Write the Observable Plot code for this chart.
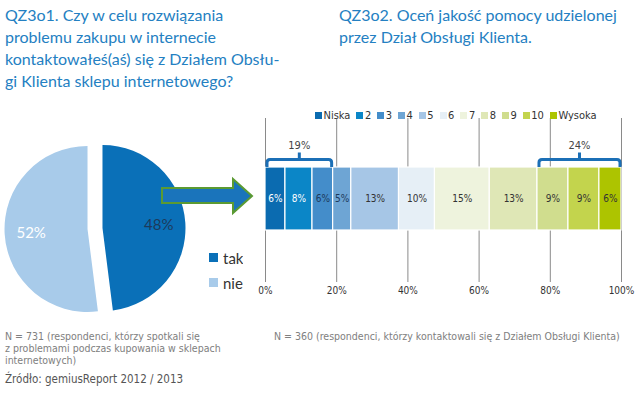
<!DOCTYPE html>
<html><head><meta charset="utf-8">
<script src="https://cdn.jsdelivr.net/npm/d3@7"></script>
<script src="https://cdn.jsdelivr.net/npm/@observablehq/plot@0.6"></script>
<style>
body{margin:0;background:#fff;}
#root{position:relative;width:640px;height:395px;overflow:hidden;background:#fff;}
.title{position:absolute;color:#2480c2;font-family:Lato,sans-serif;font-size:16px;line-height:22px;white-space:nowrap;}
.note{position:absolute;color:#808080;font-family:"Liberation Sans Narrow","DejaVu Sans Condensed",sans-serif;font-size:10.5px;line-height:12px;white-space:nowrap;}
#rl .rl-swatches-wrap{min-height:0 !important;}
#rl .rl-swatch{margin-right:6px !important;}
#rl .rl-swatch > svg{margin-right:1.5px !important;}
#rl .rl-swatches{margin:0 !important;}
#pl .pl-swatch{height:25px;padding:0 !important;}
#pl .pl-swatch > svg{margin-right:5px !important;}
#pl .pl-swatches{margin:0 !important;}
</style></head><body><div id="root"></div>
<script>
// ---- data ----
const pieLabels = ["tak", "nie"];
const pieValues = [48, 52];
const pieColors = ["#0a70b8", "#a8cbea"];
const pieTextColors = ["#1d3a5c", "#ffffff"];

const ratingLabels = ["Niska", "2", "3", "4", "5", "6", "7", "8", "9", "10", "Wysoka"];
const ratingValues = [5.6, 7.6, 5.8, 5.1, 13.4, 10.1, 15.4, 13.4, 8.7, 8.7, 6.2];
const ratingColors = ["#0b6bb0", "#0b86c7", "#448dca", "#6ea5d4", "#a6c6e6", "#e6eff6", "#eef3dd", "#dfe7b6", "#d0dd8e", "#c3d44d", "#adc400"];
const ratingTextColors = ["#ffffff", "#ffffff", "#1d3a5c", "#1d3a5c", "#333333", "#333333", "#333333", "#333333", "#333333", "#333333", "#333333"];
const xTicks = [0, 20, 40, 60, 80, 100];
const groups = [[0, 3], [8, 11]]; // ranges of categories summarised by brackets

const titleLeft = ["QZ3o1. Czy w celu rozwiązania", "problemu zakupu w internecie", "kontaktowałeś(aś) się z Działem Obsłu-", "gi Klienta sklepu internetowego?"];
const titleRight = ["QZ3o2. Oceń jakość pomocy udzielonej", "przez Dział Obsługi Klienta."];
const noteLeft = ["N = 731 (respondenci, którzy spotkali się", "z problemami podczas kupowania w sklepach", "internetowych)"];
const noteRight = "N = 360 (respondenci, którzy kontaktowali się z Działem Obsługi Klienta)";
const source = "Źródło: gemiusReport 2012 / 2013";

const root = document.getElementById("root");
function place(el, left, top) { el.style.position = "absolute"; el.style.left = left + "px"; el.style.top = top + "px"; root.appendChild(el); return el; }
function div(cls, html) { const d = document.createElement("div"); d.className = cls; d.innerHTML = html; return d; }

// titles
place(div("title", titleLeft.join("<br>")), 5, 4);
place(div("title", titleRight.join("<br>")), 339, 4);

// ---- pie ----
const pieRows = pieLabels.map((label, i) => ({label, value: pieValues[i], i}));
const explode = 7.5;
function pieMark(index, scales, values, dims) {
  const w = dims.width - dims.marginLeft - dims.marginRight;
  const h = dims.height - dims.marginTop - dims.marginBottom;
  const cx = dims.marginLeft + w / 2, cy = dims.marginTop + h / 2;
  const r = Math.min(w, h) / 2 - explode;
  const arcs = d3.pie().sort(null).value(d => d.value)(pieRows);
  const arc = d3.arc().innerRadius(0).outerRadius(r);
  const g = d3.create("svg:g");
  for (const a of arcs) {
    const mid = (a.startAngle + a.endAngle) / 2;
    const ox = cx + Math.sin(mid) * explode, oy = cy - Math.cos(mid) * explode;
    g.append("path").attr("d", arc(a)).attr("fill", pieColors[a.data.i]).attr("transform", `translate(${ox},${oy})`);
    const lr = r * 0.68;
    g.append("text")
      .attr("x", ox + Math.sin(mid) * lr).attr("y", oy - Math.cos(mid) * lr)
      .attr("text-anchor", "middle").attr("dy", "0.35em")
      .attr("fill", pieTextColors[a.data.i])
      .attr("font-family", "Lato, sans-serif").attr("font-size", 15)
      .text(a.data.value + "%");
  }
  return g.node();
}
const pie = Plot.plot({
  width: 190, height: 181, margin: 0,
  style: {background: "transparent"},
  marks: [pieMark]
});
place(pie, 0, 138);

const pieLegend = Plot.legend({
  color: {type: "ordinal", domain: pieLabels, range: pieColors},
  columns: 1, swatchSize: 9, className: "pl",
  style: {fontFamily: "Lato, sans-serif", fontSize: "15px", color: "#333"}
});
const plWrap = document.createElement("div"); plWrap.id = "pl"; plWrap.appendChild(pieLegend);
place(plWrap, 209, 245);

// arrow (decoration)
const arrowSvg = d3.create("svg").attr("width", 100).attr("height", 50);
arrowSvg.append("path")
  .attr("d", "M2,12 H73 V3 L92,20 L73,37 V27 H2 Z")
  .attr("fill", "#1a74bb").attr("stroke", "#5b9a32").attr("stroke-width", 2);
place(arrowSvg.node(), 160, 176);

// ---- stacked bar ----
const rows = ratingLabels.map((label, i) => ({label, value: ratingValues[i], i}));
const cum = d3.cumsum(ratingValues);
function bracketMark(index, scales) {
  const g = d3.create("svg:g");
  const yBar = scales.y("all");
  const hY = yBar - 7.5;
  for (const [a, b] of groups) {
    const start = a === 0 ? 0 : cum[a - 1], end = cum[b - 1];
    const x0 = scales.x(start) + 2, x1 = scales.x(end) - 1;
    const xm = (x0 + x1) / 2, rr = 3;
    g.append("path")
      .attr("d", `M${x0},${yBar} V${hY + rr} Q${x0},${hY} ${x0 + rr},${hY} H${x1 - rr} Q${x1},${hY} ${x1},${hY + rr} V${yBar} M${xm},${hY} V${hY - 7}`)
      .attr("fill", "none").attr("stroke", "#1b6fb6").attr("stroke-width", 3);
    g.append("text")
      .attr("x", xm).attr("y", hY - 14).attr("dy", "0.35em").attr("text-anchor", "middle")
      .attr("fill", "#444").attr("font-family", "DejaVu Sans Condensed, DejaVu Sans, sans-serif").attr("font-size", 11)
      .text(Math.round(end - start) + "%");
  }
  return g.node();
}
const labelFont = {fontFamily: "DejaVu Sans Condensed, DejaVu Sans, sans-serif", fontSize: 10};
const textColorSet = [...new Set(ratingTextColors)];
const bar = Plot.plot({
  width: 390, height: 200,
  marginLeft: 15, marginRight: 19, marginTop: 18, marginBottom: 18,
  style: {fontFamily: "DejaVu Sans Condensed, DejaVu Sans, sans-serif", fontSize: "10px", color: "#333", background: "transparent"},
  x: {domain: [0, 100]},
  y: {domain: ["all"], range: [67, 130], padding: 0, axis: null},
  color: {domain: ratingLabels, range: ratingColors},
  marks: [
    Plot.gridX(xTicks, {stroke: "#8a8a8a", strokeOpacity: 1}),
    Plot.barX(rows, Plot.stackX({x: "value", y: () => "all", fill: "label", stroke: "#fff", strokeWidth: 1.2, order: null})),
    ...textColorSet.map(c => Plot.text(rows, Plot.stackX({
      x: "value", y: () => "all", order: null,
      text: d => ratingTextColors[d.i] === c ? Math.round(d.value) + "%" : null,
      fill: c, ...labelFont
    }))),
    bracketMark,
    Plot.axisX(xTicks, {tickSize: 0, tickPadding: 4, tickFormat: d => d + "%", fill: "#333", label: null})
  ]
});
place(bar, 250, 100);

const ratingLegend = Plot.legend({
  color: {type: "ordinal", domain: ratingLabels, range: ratingColors},
  swatchSize: 7, className: "rl",
  style: {fontFamily: "DejaVu Sans Condensed, DejaVu Sans, sans-serif", fontSize: "11px", color: "#333"}
});
const rlWrap = document.createElement("div"); rlWrap.id = "rl"; rlWrap.appendChild(ratingLegend);
place(rlWrap, 315, 109);

// notes
place(div("note", noteLeft.join("<br>")), 5, 330);
place(div("note", noteRight), 274, 330);
const src = place(div("note", source), 5, 373);
src.style.color = "#555"; src.style.fontSize = "11.5px";
</script></body></html>
